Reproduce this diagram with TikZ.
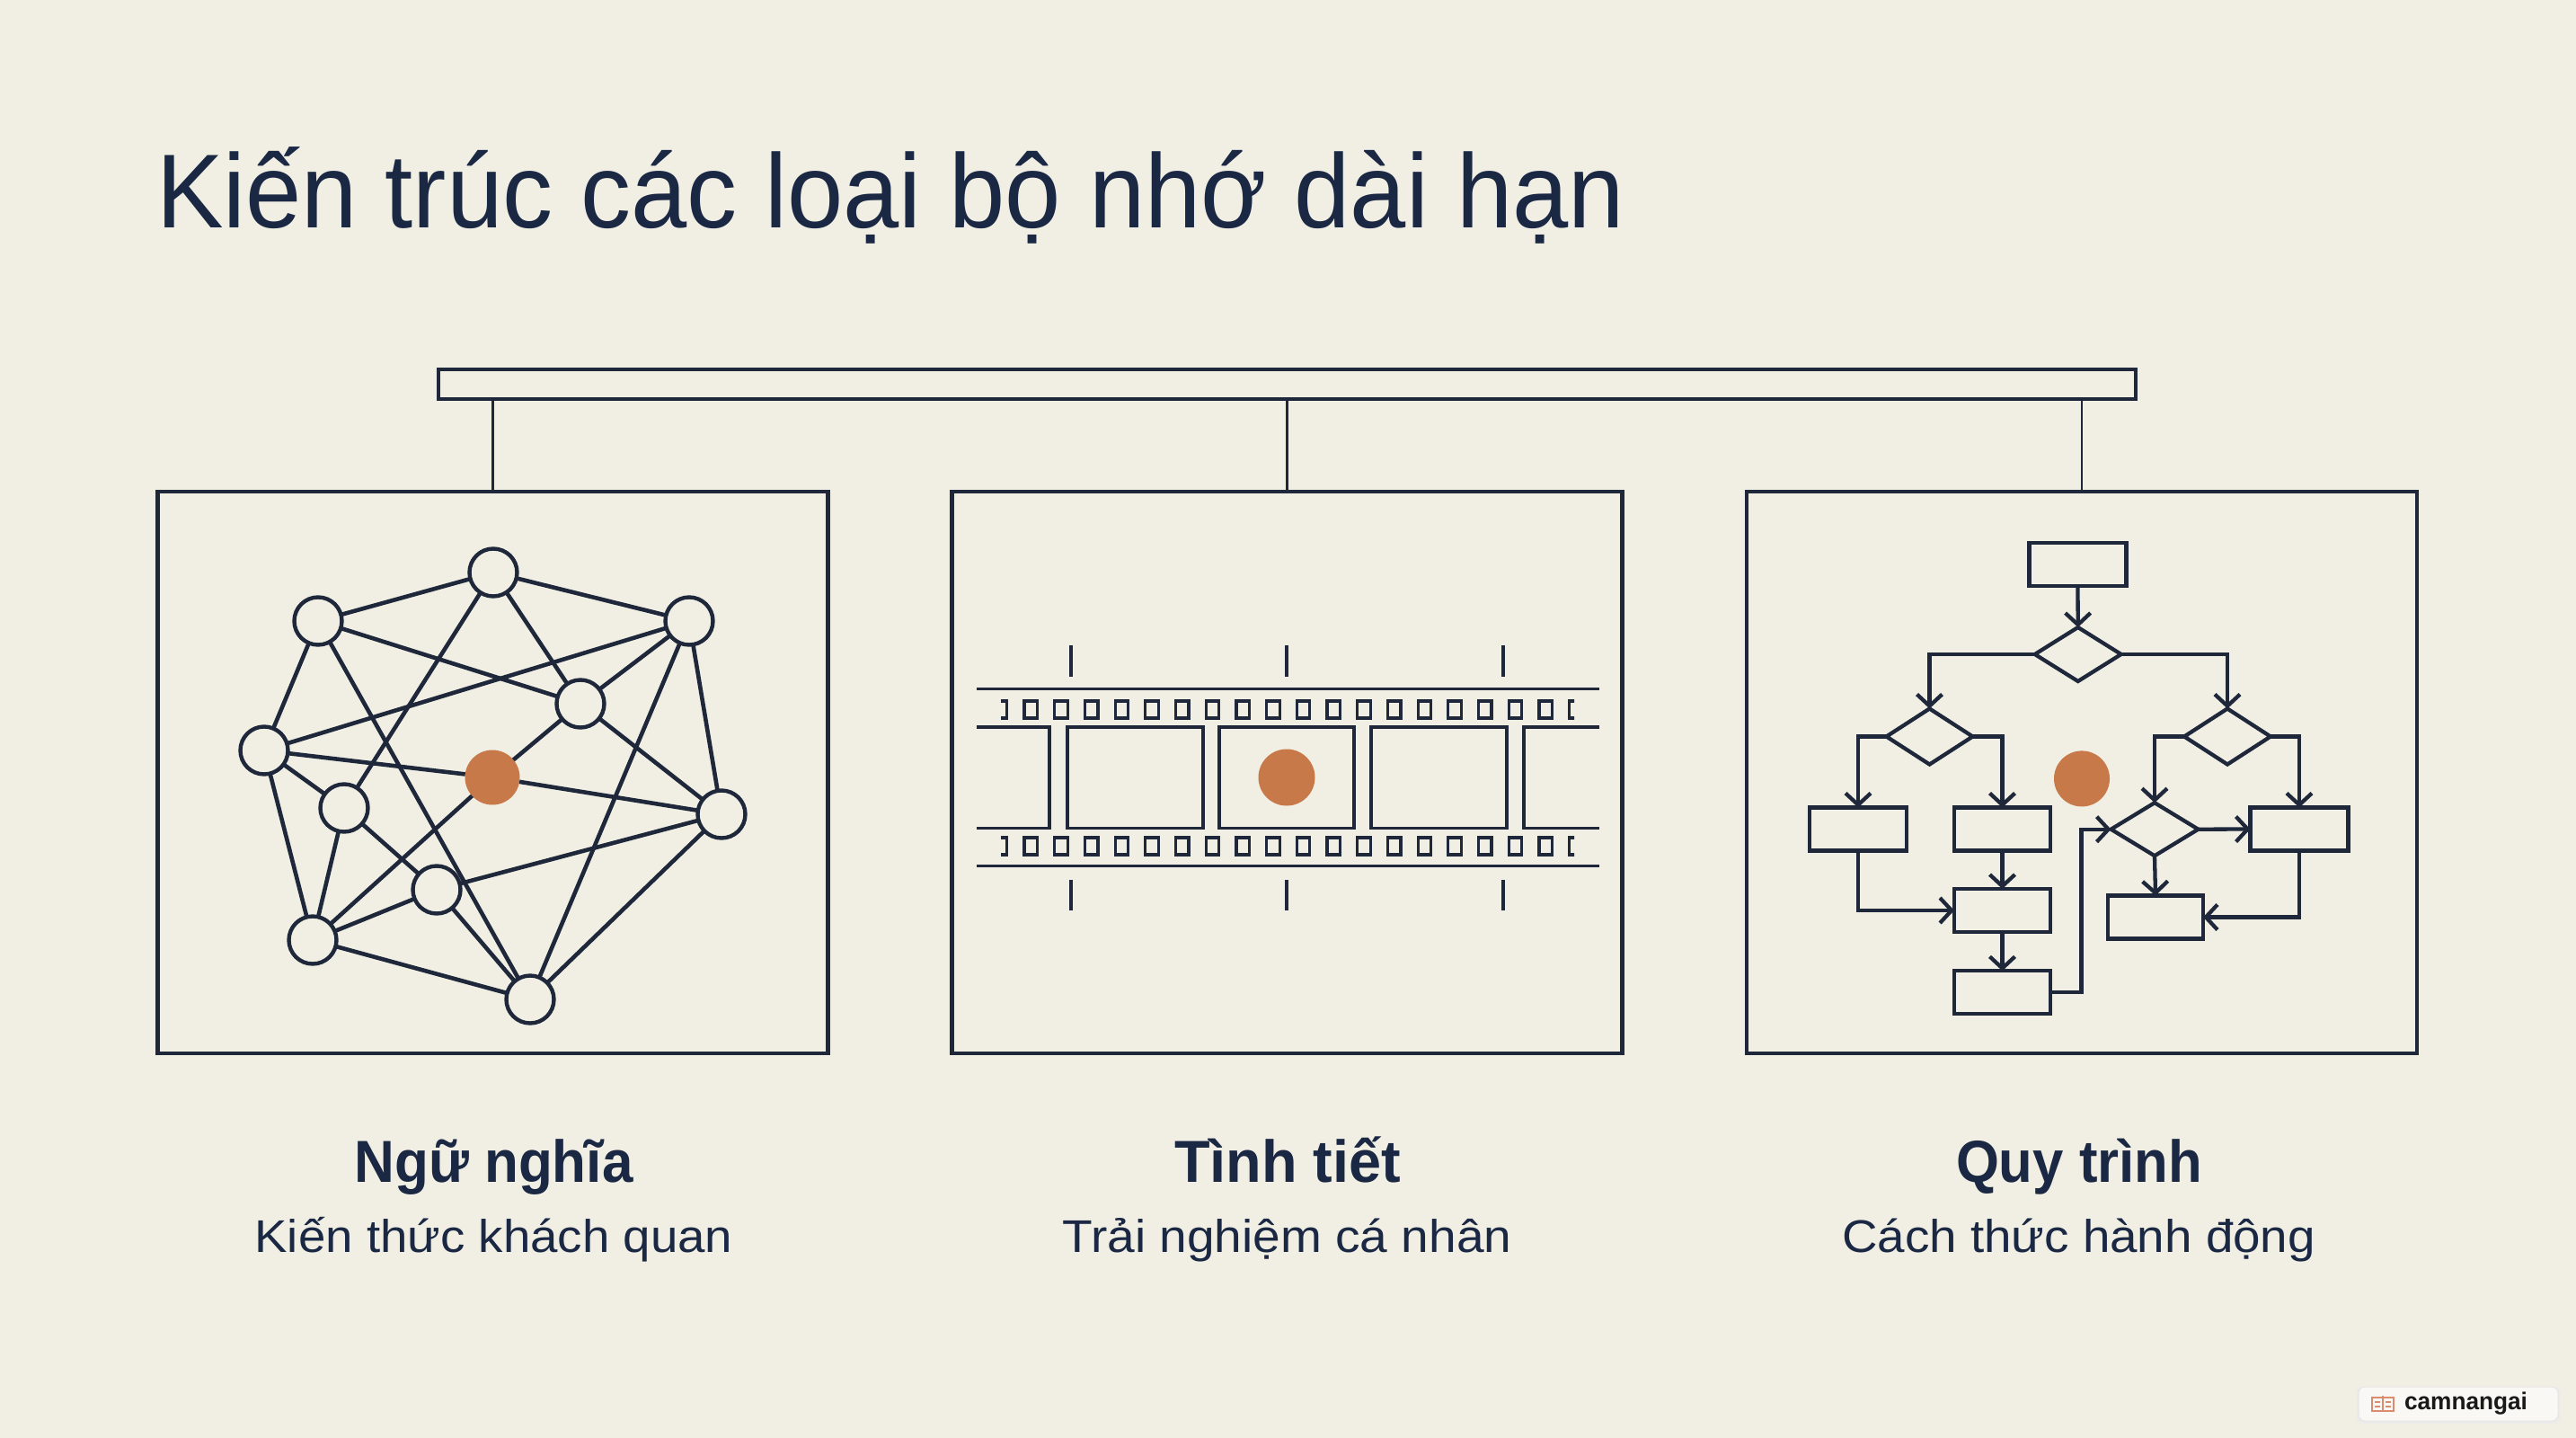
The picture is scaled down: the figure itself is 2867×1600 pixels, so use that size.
\documentclass[tikz,border=0pt]{standalone}
\usepackage{fontspec}
\setmainfont{Liberation Sans}
\usetikzlibrary{shapes.geometric,arrows.meta}
\definecolor{bg}{HTML}{F1EEE3}
\definecolor{ink}{HTML}{1E283A}
\definecolor{titleink}{HTML}{1A2844}
\definecolor{dot}{HTML}{C8794A}
\definecolor{wm}{HTML}{DB8C6E}
\newlength\fitlen
\newcommand\fitto[2]{\settowidth\fitlen{#2}\pgfmathsetmacro\fitsx{#1/\fitlen}\scalebox{\fitsx}[1]{#2}}
\begin{document}
\begin{tikzpicture}[x=1pt,y=-1pt,
  every node/.style={inner sep=0pt,outer sep=0pt},
  panel/.style={draw=ink,line width=4.2pt,minimum width=746pt,minimum height=625pt},
  link/.style={draw=ink,line width=2.8pt},
  nd/.style={circle,draw=ink,fill=bg,line width=4.4pt,minimum size=53pt},
  hub/.style={circle,fill=dot,minimum size=61pt},
  edge/.style={draw=ink,line width=4.6pt},
  film/.style={draw=ink,line width=3.8pt},
  tick/.style={draw=ink,line width=3.2pt},
  hole/.style={draw=ink,line width=3.2pt},
  fbox/.style={rectangle,draw=ink,line width=4.3pt,minimum width=108pt,minimum height=48pt},
  fdia/.style={diamond,draw=ink,line width=4.3pt,minimum width=96pt,minimum height=60pt},
  arr/.style={draw=ink,line width=4.3pt,-{Straight Barb[length=13pt,width=28pt]}},
  head/.style={font=\fontsize{66pt}{70pt}\selectfont\bfseries,text=titleink},
  sub/.style={font=\fontsize{51pt}{56pt}\selectfont,text=titleink},
]
\useasboundingbox (0,0) rectangle (2867,1600);
\fill[bg] (0,0) rectangle (2867,1600);

% title
\node[anchor=base west,text=titleink,font=\fontsize{117pt}{125pt}\selectfont] (title) at (174,253)
  {\fitto{1634}{Kiến trúc các loại bộ nhớ dài hạn}};

% top bar and panels
\node[draw=ink,line width=4.2pt,minimum width=1889pt,minimum height=33pt] (bar) at (1432.5,427.5) {};
\node[panel] (p1) at (548.5,859.5) {};
\node[panel] (p2) at (1432.5,859.5) {};
\node[panel] (p3) at (2317,859.5) {};
\draw[link] (bar.south -| p1.north) -- (p1.north);
\draw[link] (bar.south -| p2.north) -- (p2.north);
\draw[link] (bar.south -| p3.north) -- (p3.north);

% ---------- network ----------
\node[nd] (T)  at (549,637) {};
\node[nd] (UL) at (354,691) {};
\node[nd] (UR) at (767,691) {};
\node[nd] (IR) at (646,783) {};
\node[nd] (L)  at (294,835) {};
\node[hub] (C) at (548,865) {};
\node[nd] (IL) at (383,899) {};
\node[nd] (R)  at (803,906) {};
\node[nd] (LI) at (486,990) {};
\node[nd] (LL) at (348,1046) {};
\node[nd] (B)  at (590,1112) {};
\foreach \a/\b in {T/UL,T/UR,T/IR,T/IL,UL/IR,UL/L,UL/B,UR/L,UR/IR,UR/R,UR/B,IR/C,IR/R,
  L/C,L/IL,L/LL,C/R,C/LL,IL/LL,IL/LI,R/LI,R/B,LI/LL,LI/B,LL/B}
  \draw[edge] (\a) -- (\b);

% ---------- film strip ----------
\draw[film] (1087,766.5) -- (1780,766.5);
\draw[film] (1087,963.5) -- (1780,963.5);
\foreach \x in {1192,1432,1673} {
  \draw[tick] (\x,718) -- (\x,753);
  \draw[tick] (\x,979) -- (\x,1013);
}
\begin{scope}
  \clip (1114,770) rectangle (1752,960);
  \foreach \i in {-1,...,18} {
    \pgfmathsetmacro\hx{1140+33.7*\i}
    \draw[hole] (\hx,780) rectangle ++(14.5,19);
    \draw[hole] (\hx,932) rectangle ++(14.5,19);
  }
\end{scope}
\draw[film] (1087,809) -- (1168,809) -- (1168,921.5) -- (1087,921.5);
\draw[film] (1188,809) rectangle (1339,921.5);
\draw[film] (1357,809) rectangle (1507,921.5);
\draw[film] (1526,809) rectangle (1677,921.5);
\draw[film] (1780,809) -- (1696,809) -- (1696,921.5) -- (1780,921.5);
\node[hub,minimum size=63pt] (fdot) at (1432,865) {};

% ---------- flowchart ----------
\node[fbox] (S)  at (2312.5,628) {};
\node[fdia] (D1) at (2312.7,728) {};
\node[fdia,minimum height=62pt] (D2) at (2147.5,819.5) {};
\node[fdia,minimum height=62pt] (D3) at (2479,819.5) {};
\node[fbox] (R1) at (2068,922.5) {};
\node[fbox,minimum width=107pt] (R2) at (2228.5,922.5) {};
\node[fbox,minimum width=107pt] (R3) at (2228.5,1013) {};
\node[fbox,minimum width=107pt] (R4) at (2228.5,1104.3) {};
\node[fdia,minimum width=97pt,minimum height=59pt] (D4) at (2398,922.7) {};
\node[fbox,minimum width=109pt] (R5) at (2559,922.5) {};
\node[fbox,minimum width=106pt] (R6) at (2399,1020.5) {};
\node[hub,minimum size=62pt] (qdot) at (2317,866.4) {};
\coordinate (turn) at (2316.6,1104.3);

\draw[arr] (S.south) -- (D1.north);
\draw[arr] (D1.west) -| (D2.north);
\draw[arr] (D1.east) -| (D3.north);
\draw[arr] (D2.west) -| (R1.north);
\draw[arr] (D2.east) -| (R2.north);
\draw[arr] (R2.south) -- (R3.north);
\draw[arr] (R1.south) |- (R3.west);
\draw[arr] (R3.south) -- (R4.north);
\draw[arr] (R4.east) -- (turn) |- (D4.west);
\draw[arr] (D4.east) -- (R5.west);
\draw[arr] (D3.west) -| (D4.north);
\draw[arr] (D3.east) -| (R5.north);
\draw[arr] (D4.south) -- (R6.north);
\draw[arr] (R5.south) |- (R6.east);

% ---------- labels ----------
\node[head,anchor=base] (h1) at (549.5,1315) {\fitto{310}{Ngữ nghĩa}};
\node[sub,anchor=base]  (s1) at (549.5,1393) {\fitto{532}{Kiến thức khách quan}};
\node[head,anchor=base] (h2) at (1433,1315) {\fitto{252}{Tình tiết}};
\node[sub,anchor=base]  (s2) at (1432.5,1393) {\fitto{500}{Trải nghiệm cá nhân}};
\node[head,anchor=base] (h3) at (2314,1315) {\fitto{274}{Quy trình}};
\node[sub,anchor=base]  (s3) at (2313.5,1393) {\fitto{527}{Cách thức hành động}};

% ---------- watermark ----------
\fill[black!8,rounded corners=7pt] (2623,1543) rectangle (2849,1584);
\node[draw=black!10,fill=white!60!bg,rounded corners=7pt,line width=1pt,
  minimum width=222pt,minimum height=38pt] (wmbox) at (2736,1562) {};
\draw[wm,line width=1.6pt] (2640,1555) rectangle (2664,1570);
\draw[wm,line width=1.6pt] (2652,1553) -- (2652,1570);
\draw[wm,line width=1.2pt] (2643,1560) -- (2649,1560) (2643,1565) -- (2649,1565)
  (2655,1560) -- (2661,1560) (2655,1565) -- (2661,1565);
\node[anchor=base west,font=\fontsize{27pt}{30pt}\selectfont\bfseries,text=black!90] (wmtext) at (2676,1568)
  {\fitto{137}{camnangai}};
\end{tikzpicture}
\end{document}
